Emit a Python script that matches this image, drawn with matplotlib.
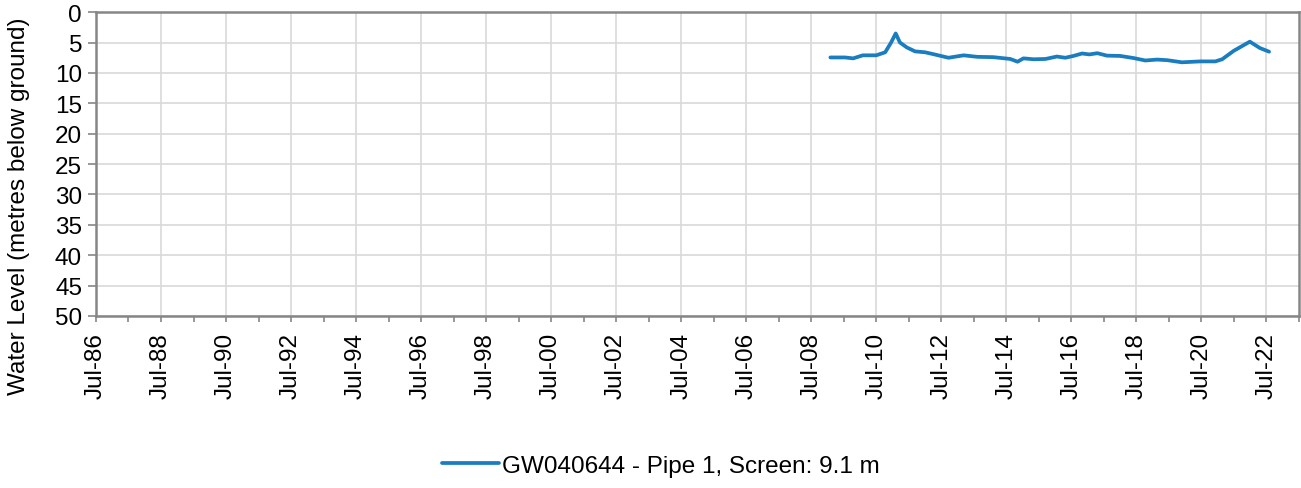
import matplotlib
matplotlib.use("Agg")
import matplotlib.pyplot as plt
import matplotlib.dates as mdates
import pandas as pd

plt.rcParams['font.family'] = ['Liberation Sans', 'DejaVu Sans']

# Water level readings (metres below ground)
dates = ["2009-02-01", "2009-07-15", "2009-10-15", "2010-02-01", "2010-07-01",
         "2010-10-10", "2010-12-15", "2011-02-05", "2011-03-25", "2011-06-10",
         "2011-09-10", "2012-01-01", "2012-04-01", "2012-09-20", "2013-03-10",
         "2013-08-10", "2014-02-05", "2014-08-15", "2014-11-05", "2015-01-10",
         "2015-05-05", "2015-09-15", "2016-01-20", "2016-04-25", "2016-07-25",
         "2016-10-30", "2017-01-20", "2017-04-20", "2017-08-05", "2018-01-01",
         "2018-06-01", "2018-10-10", "2019-02-20", "2019-06-15", "2019-11-25",
         "2020-06-20", "2020-12-05", "2021-02-20", "2021-07-01", "2021-12-28",
         "2022-04-20", "2022-08-01"]
levels = [7.45, 7.45, 7.6, 7.1, 7.1,
          6.6, 5.0, 3.5, 5.0, 5.8,
          6.45, 6.6, 6.9, 7.5, 7.1,
          7.35, 7.4, 7.7, 8.15, 7.6,
          7.75, 7.7, 7.3, 7.5, 7.2,
          6.8, 6.95, 6.75, 7.15, 7.2,
          7.55, 7.95, 7.8, 7.9, 8.25,
          8.1, 8.1, 7.75, 6.35, 4.85,
          5.9, 6.5]
series_label = "GW040644 - Pipe 1, Screen: 9.1 m"

x = pd.to_datetime(dates)
fs = 17.5

fig = plt.figure(figsize=(13.01, 4.89), dpi=100)
ax = fig.add_axes([0.0738, 0.352, 0.9245, 0.621])

ax.plot(x, levels, color='#1a7dc0', linewidth=2.7, label=series_label,
        solid_joinstyle='round', solid_capstyle='round')

ax.set_ylim(50, 0)
ax.set_yticks(range(0, 51, 5))
ax.set_xlim(pd.Timestamp("1986-07-01"), pd.Timestamp("2023-07-01"))
ax.xaxis.set_major_locator(mdates.YearLocator(base=2, month=7))
ax.xaxis.set_minor_locator(mdates.YearLocator(base=1, month=7))
ax.xaxis.set_major_formatter(mdates.DateFormatter("Jul-%y"))
plt.setp(ax.get_xticklabels(), rotation=90)

ax.grid(True, which='major', color='#d9d9d9', linewidth=1.2)
ax.set_axisbelow(True)
for s in ax.spines.values():
    s.set_color('#868686')
    s.set_linewidth(1.8)
ax.tick_params(axis='y', which='major', labelsize=fs, color='#868686',
               length=6, width=1.2, pad=4)
ax.tick_params(axis='x', which='major', labelsize=fs, color='#868686',
               length=4.5, width=1.2, pad=7)
ax.tick_params(axis='x', which='minor', color='#868686', length=4, width=1.2)

# label sits lower than the axes centre in the reference
ax.set_ylabel("Water Level (metres below ground)", fontsize=fs)
ax.yaxis.set_label_coords(-0.055, 0.365)

fig.legend(loc='center', bbox_to_anchor=(0.508, 0.045), frameon=False,
           fontsize=fs, handlelength=2.35, handletextpad=0.1)

fig.savefig("out.png", dpi=100)
